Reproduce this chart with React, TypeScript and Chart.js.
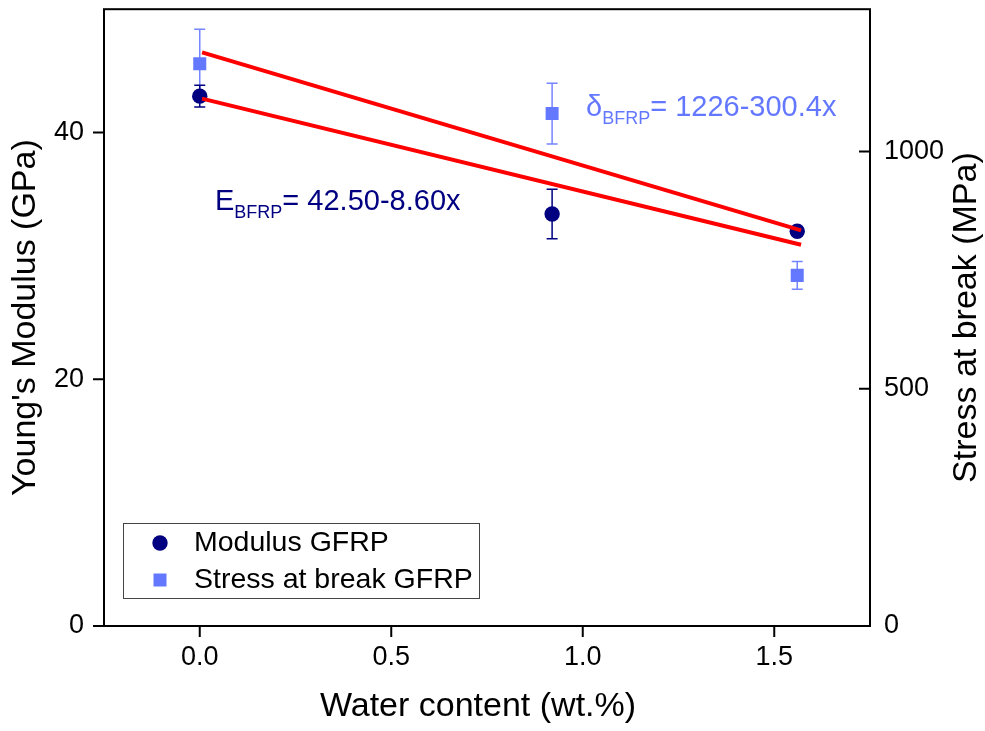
import React, { useEffect, useRef } from 'react';
import { Chart, registerables } from 'chart.js';

Chart.register(...registerables);

// ---------- data ----------
const waterContent = [0, 0.92, 1.56];
const modulusGFRP = [42.95, 33.4, 32.0];
const modulusErr = [0.88, 2.0, 0.3];
const stressGFRP = [1185, 1080, 739];
const stressErr = [73, 64, 29];

const fitX = [0.006, 1.57];
const modulusFit = [42.75, 30.9];
const stressFit = [1209, 834];

const xTickValues = [-0.25, 0, 0.25, 0.5, 0.75, 1, 1.25, 1.5, 1.75];
const xMajorValues = [0, 0.5, 1, 1.5];
const xMajorLabels = ['0.0', '0.5', '1.0', '1.5'];
const yLeftTickValues = [0, 10, 20, 30, 40, 50];
const yLeftMajorValues = [0, 20, 40];
const yLeftMajorLabels = ['0', '20', '40'];
const yRightTickValues = [0, 250, 500, 750, 1000, 1250];
const yRightMajorValues = [0, 500, 1000];
const yRightMajorLabels = ['0', '500', '1000'];

const legendLabels = ['Modulus GFRP', 'Stress at break GFRP'];
const xTitle = 'Water content (wt.%)';
const yLeftTitle = "Young's Modulus (GPa)";
const yRightTitle = 'Stress at break (MPa)';
const modulusEq = ['E', 'BFRP', '= 42.50-8.60x'];
const stressEq = ['\u03B4', 'BFRP', '= 1226-300.4x'];

// ---------- style ----------
const FONT = "'Liberation Sans', Arial, Helvetica, sans-serif";
const NAVY = '#000080';
const STRESS = '#6478FF';
const STRESS_ERR = '#7585FF';
const RED = '#FF0000';

const labelFor = (values: number[], labels: string[]) => (v: number) => {
  const i = values.findIndex((m) => Math.abs(m - Number(v)) < 1e-9);
  return i >= 0 ? labels[i] : null;
};

function drawErrorBars(ctx: CanvasRenderingContext2D, xs: any, ys: any, xv: number[], yv: number[], ev: number[], color: string) {
  ctx.save();
  ctx.strokeStyle = color;
  ctx.lineWidth = 1.5;
  for (let i = 0; i < xv.length; i++) {
    const px = xs.getPixelForValue(xv[i]);
    const top = ys.getPixelForValue(yv[i] + ev[i]);
    const bot = ys.getPixelForValue(yv[i] - ev[i]);
    ctx.beginPath();
    ctx.moveTo(px, top);
    ctx.lineTo(px, bot);
    ctx.moveTo(px - 5.5, top);
    ctx.lineTo(px + 5.5, top);
    ctx.moveTo(px - 5.5, bot);
    ctx.lineTo(px + 5.5, bot);
    ctx.stroke();
  }
  ctx.restore();
}

function drawEquation(ctx: CanvasRenderingContext2D, parts: string[], x: number, y: number, color: string) {
  ctx.save();
  ctx.fillStyle = color;
  ctx.textAlign = 'left';
  ctx.textBaseline = 'alphabetic';
  ctx.font = `29px ${FONT}`;
  ctx.fillText(parts[0], x, y);
  let cx = x + ctx.measureText(parts[0]).width;
  ctx.font = `18px ${FONT}`;
  ctx.fillText(parts[1], cx, y + 8);
  cx += ctx.measureText(parts[1]).width;
  ctx.font = `29px ${FONT}`;
  ctx.fillText(parts[2], cx, y);
  ctx.restore();
}

const decorPlugin = {
  id: 'decor',
  beforeDatasetsDraw(chart: any) {
    const { ctx, scales } = chart;
    drawErrorBars(ctx, scales.x, scales.y1, waterContent, stressGFRP, stressErr, STRESS_ERR);
    drawErrorBars(ctx, scales.x, scales.y, waterContent, modulusGFRP, modulusErr, NAVY);
  },
  afterDraw(chart: any) {
    const { ctx, chartArea, scales } = chart;
    const { left, right, top, bottom } = chartArea;
    ctx.save();
    ctx.strokeStyle = '#000';
    ctx.lineWidth = 2;
    ctx.strokeRect(left, top, right - left, bottom - top);

    // tick marks
    ctx.lineWidth = 2;
    ctx.beginPath();
    for (const t of scales.x.ticks) {
      const px = scales.x.getPixelForValue(t.value);
      const len = t.label ? 11 : 6;
      ctx.moveTo(px, bottom);
      ctx.lineTo(px, bottom + len);
    }
    for (const t of scales.y.ticks) {
      const py = scales.y.getPixelForValue(t.value);
      const len = t.label ? 11 : 6;
      ctx.moveTo(left, py);
      ctx.lineTo(left - len, py);
    }
    for (const t of scales.y1.ticks) {
      const py = scales.y1.getPixelForValue(t.value);
      const len = t.label ? 11 : 6;
      ctx.moveTo(right, py);
      ctx.lineTo(right - len, py);
    }
    ctx.stroke();

    ctx.fillStyle = '#000';
    ctx.font = `34px ${FONT}`;
    ctx.textAlign = 'center';
    ctx.textBaseline = 'middle';
    // x axis title
    ctx.fillText(xTitle, 478, 707);
    // right axis title (reads bottom to top)
    ctx.save();
    ctx.translate(967, (top + bottom) / 2);
    ctx.rotate(-Math.PI / 2);
    ctx.fillText(yRightTitle, 0, 0);
    ctx.restore();

    // equations
    drawEquation(ctx, modulusEq, 215, 210, NAVY);
    drawEquation(ctx, stressEq, 586, 116, STRESS);

    // legend
    ctx.lineWidth = 1;
    ctx.strokeStyle = '#444';
    ctx.strokeRect(123.5, 523.5, 356, 75);
    ctx.fillStyle = NAVY;
    ctx.beginPath();
    ctx.arc(160, 543, 7.7, 0, Math.PI * 2);
    ctx.fill();
    ctx.fillStyle = STRESS;
    ctx.fillRect(160 - 6.5, 580 - 6.5, 13, 13);
    ctx.fillStyle = '#000';
    ctx.font = `28.5px ${FONT}`;
    ctx.textAlign = 'left';
    ctx.textBaseline = 'middle';
    ctx.fillText(legendLabels[0], 194, 543);
    ctx.fillText(legendLabels[1], 194, 580);
    ctx.restore();
  },
};

export default function App() {
  const canvasRef = useRef<HTMLCanvasElement | null>(null);

  useEffect(() => {
    if (!canvasRef.current) return;
    const tickFont = { family: FONT, size: 27 };
    const titleFont = { family: FONT, size: 34 };
    const chart = new Chart(canvasRef.current, {
      type: 'scatter',
      data: {
        datasets: [
          {
            label: 'fit modulus',
            data: fitX.map((x, i) => ({ x, y: modulusFit[i] })),
            yAxisID: 'y',
            showLine: true,
            borderColor: RED,
            borderWidth: 4,
            pointRadius: 0,
            order: 0,
          },
          {
            label: 'fit stress',
            data: fitX.map((x, i) => ({ x, y: stressFit[i] })),
            yAxisID: 'y1',
            showLine: true,
            borderColor: RED,
            borderWidth: 4,
            pointRadius: 0,
            order: 0,
          },
          {
            label: legendLabels[0],
            data: waterContent.map((x, i) => ({ x, y: modulusGFRP[i] })),
            yAxisID: 'y',
            pointStyle: 'circle',
            pointRadius: 7.7,
            backgroundColor: NAVY,
            borderColor: NAVY,
            borderWidth: 0,
            order: 2,
          },
          {
            label: legendLabels[1],
            data: waterContent.map((x, i) => ({ x, y: stressGFRP[i] })),
            yAxisID: 'y1',
            pointStyle: 'rect',
            pointRadius: 9.2,
            backgroundColor: STRESS,
            borderColor: STRESS,
            borderWidth: 0,
            order: 1,
          },
        ],
      },
      options: {
        animation: false,
        responsive: true,
        maintainAspectRatio: false,
        events: [],
        layout: { padding: { top: 8, left: 0, right: 0, bottom: 0 } },
        plugins: { legend: { display: false }, tooltip: { enabled: false } },
        scales: {
          x: {
            type: 'linear',
            position: 'bottom',
            min: -0.25,
            max: 1.75,
            afterBuildTicks: (s: any) => { s.ticks = xTickValues.map((value) => ({ value })); },
            afterFit: (s: any) => { s.height = 105; s.paddingLeft = 0; s.paddingRight = 0; s.paddingTop = 0; s.paddingBottom = 0; },
            ticks: {
              autoSkip: false,
              maxRotation: 0,
              padding: 15,
              color: '#000',
              font: tickFont,
              callback: labelFor(xMajorValues, xMajorLabels) as any,
            },
            grid: { display: false, drawTicks: false },
            border: { display: false },
          },
          y: {
            type: 'linear',
            position: 'left',
            min: 0,
            max: 50,
            afterBuildTicks: (s: any) => { s.ticks = yLeftTickValues.map((value) => ({ value })); },
            afterFit: (s: any) => { s.width = 104; s.paddingLeft = 0; s.paddingRight = 0; s.paddingTop = 0; s.paddingBottom = 0; },
            ticks: {
              autoSkip: false,
              padding: 20,
              color: '#000',
              font: tickFont,
              callback: labelFor(yLeftMajorValues, yLeftMajorLabels) as any,
            },
            grid: { display: false, drawTicks: false },
            border: { display: false },
            title: { display: true, text: yLeftTitle, color: '#000', font: titleFont, padding: { top: 5, bottom: 0 } },
          },
          y1: {
            type: 'linear',
            position: 'right',
            min: 0,
            max: 1300,
            afterBuildTicks: (s: any) => { s.ticks = yRightTickValues.map((value) => ({ value })); },
            afterFit: (s: any) => { s.width = 115; s.paddingLeft = 0; s.paddingRight = 0; s.paddingTop = 0; s.paddingBottom = 0; },
            ticks: {
              autoSkip: false,
              padding: 14,
              color: '#000',
              font: tickFont,
              callback: labelFor(yRightMajorValues, yRightMajorLabels) as any,
            },
            grid: { display: false, drawTicks: false },
            border: { display: false },
          },
        },
      },
      plugins: [decorPlugin],
    } as any);
    return () => chart.destroy();
  }, []);

  return (
    <div style={{ position: 'absolute', left: 0, top: 0, width: 985, height: 731, background: '#fff' }}>
      <canvas ref={canvasRef} />
    </div>
  );
}
